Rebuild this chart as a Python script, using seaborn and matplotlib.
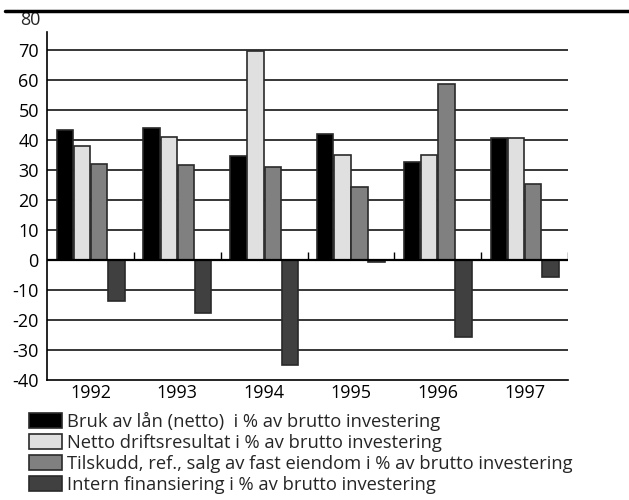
import pandas as pd
import seaborn as sns
import matplotlib.pyplot as plt
import numpy as np
from matplotlib.lines import Line2D

# Data
years = ['1992', '1993', '1994', '1995', '1996', '1997']
series = ['Bruk av lån (netto)  i % av brutto investering',
          'Netto driftsresultat i % av brutto investering',
          'Tilskudd, ref., salg av fast eiendom i % av brutto investering',
          'Intern finansiering i % av brutto investering']
bruk_av_lan = [43.3, 44.1, 34.8, 41.9, 32.7, 40.6]
netto_drift = [38.1, 40.9, 69.7, 34.9, 34.9, 40.6]
tilskudd = [31.9, 31.6, 31.0, 24.3, 58.8, 25.4]
intern_fin = [-13.8, -17.8, -34.9, -0.6, -25.6, -5.8]
yticks = [-40, -30, -20, -10, 0, 10, 20, 30, 40, 50, 60, 70]
colors = ['#000000', '#e0e0e0', '#808080', '#404040']

df = pd.DataFrame({'year': years * 4,
                   'serie': np.repeat(series, len(years)),
                   'value': bruk_av_lan + netto_drift + tilskudd + intern_fin})

sns.set_style('white')
plt.rcParams['font.family'] = ['Open Sans', 'DejaVu Sans']

fig = plt.figure(figsize=(6.29, 5.0), dpi=100)
ax = fig.add_axes([0.075, 0.24, 0.828, 0.696])

sns.barplot(data=df, x='year', y='value', hue='serie', hue_order=series,
            palette=colors, width=0.79, gap=0.04, edgecolor='#2a2a2a',
            linewidth=1.2, saturation=1, ax=ax, legend=True)

ax.set_ylim(-40, 76)
ax.set_xlim(-0.5, len(years) - 0.5)
ax.set_yticks(yticks)
ax.set_yticklabels([str(v) for v in yticks])
ax.set_xlabel('')
ax.set_ylabel('')
ax.tick_params(axis='both', length=0, labelsize=13, colors='black')
ax.tick_params(axis='x', pad=3)
ax.tick_params(axis='y', pad=6)

# grid lines
for v in yticks[1:]:
    ax.axhline(v, color='black', lw=1.1, zorder=0.5)
ax.axhline(0, color='black', lw=1.6, zorder=3)

# small upward ticks on the zero line between groups
bounds = np.arange(len(years) + 1) - 0.5
ax.vlines(bounds[1:], 0, 2.8, color='black', lw=1.0, zorder=3)

ax.text(-0.012, 80, '80', transform=ax.get_yaxis_transform(), ha='right',
        va='center', fontsize=13, clip_on=False)

for s in ['top', 'right']:
    ax.spines[s].set_visible(False)
ax.spines['left'].set_color('black')
ax.spines['bottom'].set_color('black')
ax.spines['left'].set_linewidth(1.2)
ax.spines['bottom'].set_linewidth(1.2)

handles, labels = ax.get_legend_handles_labels()
ax.get_legend().remove()
fig.legend(handles, labels, loc='upper left', bbox_to_anchor=(0.046, 0.176),
           frameon=False, fontsize=13.2, handlelength=1.8, handleheight=0.92,
           handletextpad=0.3, labelspacing=0.16, borderpad=0, borderaxespad=0)

fig.add_artist(Line2D([0.008, 1.0], [0.978, 0.978], color='black', lw=2.5))

fig.savefig('out.png', dpi=100)
